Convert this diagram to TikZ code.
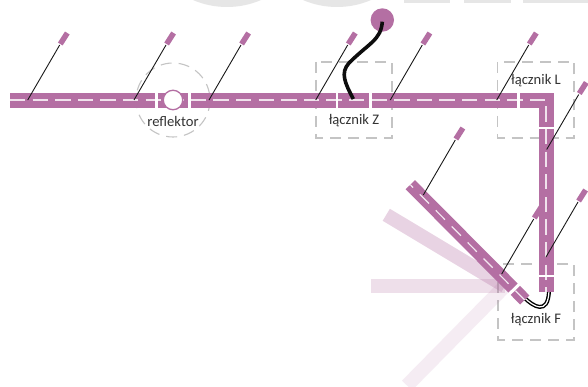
\documentclass[tikz,border=0pt]{standalone}
\usepackage{fontspec}
\setmainfont{Carlito}
\definecolor{bar}{HTML}{B46FA3}
\definecolor{ghost}{HTML}{E6E6E6}
\definecolor{guide}{HTML}{C4C4C4}
\definecolor{label}{HTML}{333333}
\tikzset{
  barseg/.style={line width=15pt,draw=bar},
  diagseg/.style={line width=13pt,draw=bar},
  fade/.style={line width=14pt,draw=bar,opacity=#1},
  whitedash/.style={draw=white,line width=1.2pt,dash pattern=on 15.3pt off 7.3pt,opacity=.8},
  diagdash/.style={draw=white,line width=1.2pt,dash pattern=on 13pt off 9.6pt,dash phase=9pt,opacity=.85},
  guidebox/.style={draw=guide,line width=1.1pt,dash pattern=on 11pt off 7pt},
  pinline/.style={draw=black!90,line width=.9pt},
  pinhead/.style={draw=bar,line width=5.5pt},
  txt/.style={text=label,font=\fontsize{14.6}{16}\selectfont,inner sep=0pt},
}
\begin{document}
\begin{tikzpicture}[x=1pt,y=-1pt]
\clip (0,0) rectangle (588,387);
\path[fill=white] (0,0) rectangle (588,387);
% ghost shapes on the top edge
\fill[ghost] (227,-79) circle (86);
\fill[ghost] (337,-79) circle (86);
\fill[ghost] (404,0) rectangle (450,3);
\fill[ghost] (464,0) rectangle (511,3);
\fill[ghost] (523,0) rectangle (588,3);
% guides
\coordinate (hub) at (505,286);
\draw[guidebox] (173,100) circle (37);
\draw[guidebox] (316,62) rectangle (392,138);
\draw[guidebox] (497.5,62) rectangle (574,138);
\draw[guidebox] (498,264) rectangle (574,340);
% faded positions
\coordinate (f1) at (386.3,214.8);
\coordinate (f2) at (371,286);
\coordinate (f3) at (407,385.5);
\draw[fade=.3] (f1) -- (hub);
\draw[fade=.22] (f2) -- (hub);
\draw[fade=.13] (f3) -- (hub);
% F wire
\coordinate (fa) at (525,298.3);
\coordinate (fb) at (549,291);
\draw[black,line width=4pt] (fa) .. controls (533,306) and (548,316) .. (fb);
\draw[white,line width=1.2pt] (fa) .. controls (533,306) and (548,316) .. (fb);
% horizontal track
\draw[barseg] (10,100.5) -- (155,100.5);
\draw[barseg] (158,100.5) -- (188,100.5);
\draw[barseg] (191,100.5) -- (336,100.5);
\draw[barseg] (338,100.5) -- (369,100.5);
\draw[barseg] (372,100.5) -- (517,100.5);
\draw[barseg,line join=miter] (520,100.5) -- (546.5,100.5) -- (546.5,127);
\draw[barseg] (546.5,129) -- (546.5,274.5);
\draw[barseg] (546.5,277) -- (546.5,292);
\coordinate (hs) at (10,100);
\coordinate (hc) at (546,100);
\coordinate (he) at (546,292);
\draw[whitedash] (hs) -- (hc) -- (he);
% diagonal track
\coordinate (da) at (410.3,184.7);
\coordinate (dg1) at (513,288);
\coordinate (dg2) at (515.4,290.4);
\coordinate (db) at (524.7,300);
\draw[diagseg] (da) -- (dg1);
\draw[diagseg] (dg2) -- (db);
\draw[diagdash] (da) -- (db);
% pins
\foreach \x/\y in {27.7/100,134/100,209/100,315.7/100,390.3/100,496.7/100,546.7/149.5,423.3/195,501.7/274,546/257}{
  \draw[pinline] (\x,\y) -- ++(32,-55) coordinate (pt);
  \draw[pinhead] (pt) ++(.6,-1) -- ++(7,-11);
}
% reflector
\node[circle,draw=bar,fill=white,line width=1.3pt,minimum size=19.5pt,inner sep=0pt] (refl) at (173,100) {};
% Z wire
\node[circle,fill=bar,minimum size=23.4pt,inner sep=0pt] (feed) at (382.3,20) {};
\coordinate (za) at (382.3,21.7);
\coordinate (zb) at (353.3,99);
\draw[black!95,line width=3.6pt] (za) .. controls (381,40) and (369,43) .. (349,63) .. controls (340,73) and (345,83) .. (zb);
% labels
\node[txt] (lr) at (173,121) {reflektor};
\node[txt] (lz) at (354,121) {łącznik Z};
\node[txt] (ll) at (536,81) {łącznik L};
\node[txt] (lf) at (536,320) {łącznik F};
\end{tikzpicture}
\end{document}
